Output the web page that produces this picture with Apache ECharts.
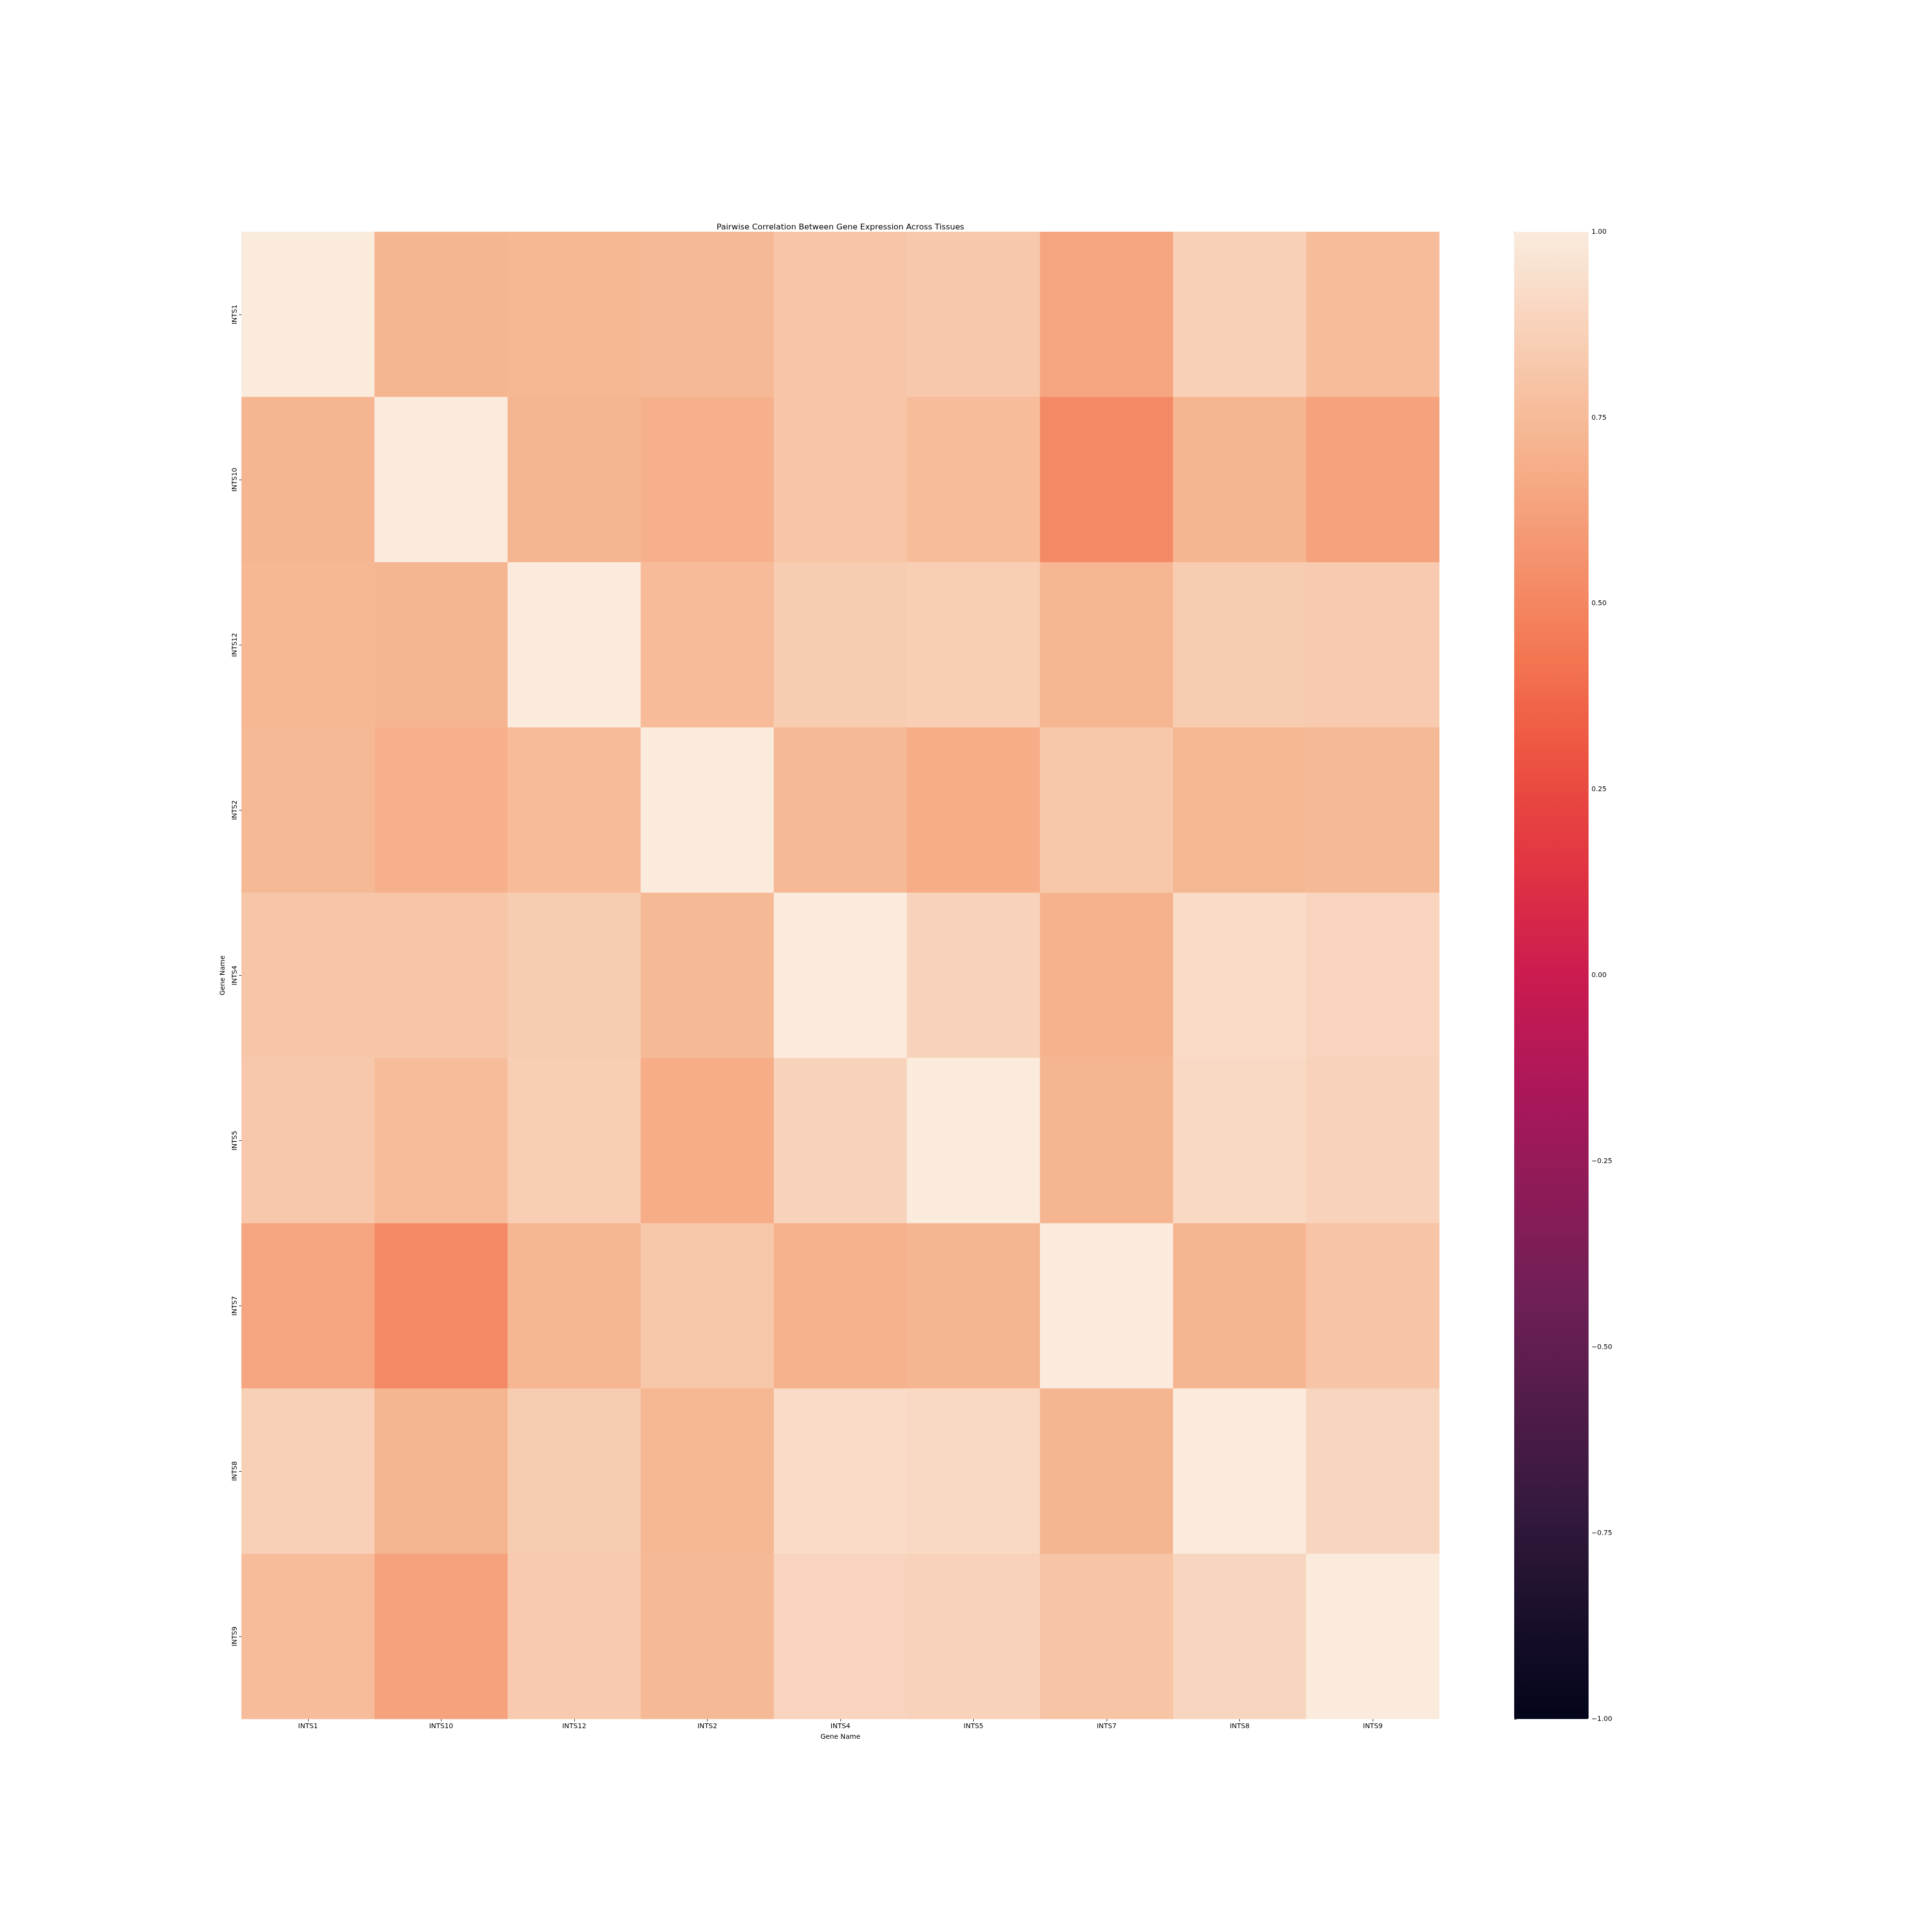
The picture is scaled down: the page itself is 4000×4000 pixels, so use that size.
<!DOCTYPE html>
<html>
<head>
<meta charset="utf-8">
<script src="https://cdn.jsdelivr.net/npm/echarts@6/dist/echarts.min.js"></script>
<style>
  html, body { margin: 0; padding: 0; background: #fff; }
  #chart { width: 4000px; height: 4000px; }
</style>
</head>
<body>
<div id="chart"></div>
<script>
// genes, same order for rows and columns
const genes = ['INTS1', 'INTS10', 'INTS12', 'INTS2', 'INTS4', 'INTS5', 'INTS7', 'INTS8', 'INTS9'];

// correlation matrix, one row per gene
const corr = [
  [1.00, 0.72, 0.73, 0.74, 0.81, 0.82, 0.645, 0.86, 0.755],
  [0.72, 1.00, 0.72, 0.70, 0.81, 0.76, 0.52, 0.72, 0.63],
  [0.73, 0.72, 1.00, 0.75, 0.84, 0.85, 0.725, 0.84, 0.83],
  [0.74, 0.70, 0.75, 1.00, 0.74, 0.68, 0.815, 0.73, 0.74],
  [0.81, 0.81, 0.84, 0.74, 1.00, 0.88, 0.705, 0.92, 0.885],
  [0.82, 0.76, 0.85, 0.68, 0.88, 1.00, 0.72, 0.91, 0.87],
  [0.645, 0.52, 0.725, 0.815, 0.705, 0.72, 1.00, 0.72, 0.80],
  [0.86, 0.72, 0.84, 0.73, 0.92, 0.91, 0.72, 1.00, 0.89],
  [0.755, 0.63, 0.83, 0.74, 0.885, 0.87, 0.80, 0.89, 1.00]
];

// colour bar ticks
const cbarTicks = [-1, -0.75, -0.5, -0.25, 0, 0.25, 0.5, 0.75, 1];

// rocket colormap, evenly spaced from -1 to 1
const rocket = [
  '#03051a', '#1a0f2c', '#35193e', '#521c4a', '#701f57', '#8e1b58', '#ad1759', '#cb1b4f',
  '#e13342', '#ec5140', '#f37651', '#f49570', '#f6b48f', '#f8cfb6', '#faebdd'
];

const cells = [];
corr.forEach((row, i) => {
  row.forEach((v, j) => cells.push([j, i, v]));
});

const font = 'DejaVu Sans';
const txt = { color: '#000', fontFamily: font, fontSize: 14 };

const chart = echarts.init(document.getElementById('chart'));
chart.setOption({
  backgroundColor: '#fff',
  animation: false,
  title: {
    text: 'Pairwise Correlation Between Gene Expression Across Tissues',
    left: 1735,
    textAlign: 'center',
    top: 457,
    textStyle: { color: '#000', fontFamily: font, fontSize: 16.6, fontWeight: 'normal' }
  },
  grid: [
    { left: 500, top: 480, width: 2480, height: 3079 },
    { left: 3135, top: 480, width: 154, height: 3079 }
  ],
  xAxis: [
    {
      type: 'category',
      gridIndex: 0,
      data: genes,
      name: 'Gene Name',
      nameLocation: 'middle',
      nameGap: 30,
      nameTextStyle: txt,
      axisLine: { show: false },
      axisTick: { show: true, alignWithLabel: true, length: 5, lineStyle: { color: '#000' } },
      axisLabel: Object.assign({ margin: 8 }, txt),
      splitLine: { show: false }
    },
    { type: 'value', gridIndex: 1, show: false, min: 0, max: 1 }
  ],
  yAxis: [
    {
      type: 'category',
      gridIndex: 0,
      data: genes,
      inverse: true,
      name: 'Gene Name',
      nameLocation: 'middle',
      nameGap: 32,
      nameRotate: 90,
      nameTextStyle: txt,
      axisLine: { show: false },
      axisTick: { show: true, alignWithLabel: true, length: 5, lineStyle: { color: '#000' } },
      axisLabel: Object.assign({ rotate: 90, margin: 7 }, txt),
      splitLine: { show: false }
    },
    {
      type: 'value',
      gridIndex: 1,
      position: 'right',
      min: cbarTicks[0],
      max: cbarTicks[cbarTicks.length - 1],
      interval: 0.25,
      axisLine: { show: false },
      axisTick: { show: true, length: 5, lineStyle: { color: '#000' } },
      axisLabel: Object.assign({
        margin: 6,
        formatter: v => (v < 0 ? '\u2212' : '') + Math.abs(v).toFixed(2)
      }, txt),
      splitLine: { show: false }
    }
  ],
  visualMap: {
    type: 'continuous',
    seriesIndex: 0,
    min: -1,
    max: 1,
    calculable: false,
    hoverLink: false,
    orient: 'vertical',
    left: 3135,
    top: 480,
    padding: 0,
    itemWidth: 154,
    itemHeight: 3079,
    text: null,
    inRange: { color: rocket }
  },
  series: [
    {
      type: 'heatmap',
      xAxisIndex: 0,
      yAxisIndex: 0,
      data: cells,
      itemStyle: { borderWidth: 0 },
      emphasis: { disabled: true }
    },
    {
      type: 'scatter',
      xAxisIndex: 1,
      yAxisIndex: 1,
      data: [],
      silent: true
    }
  ]
});
</script>
</body>
</html>
